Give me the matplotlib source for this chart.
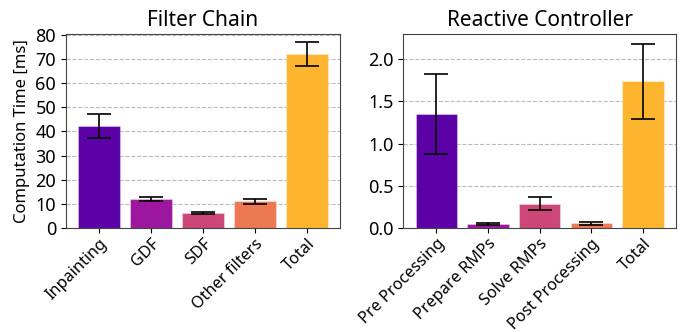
import numpy as np
import matplotlib
matplotlib.use("Agg")
import matplotlib.pyplot as plt

plt.rcParams["font.family"] = ["Noto Sans", "DejaVu Sans"]

# ----------------------------
# Data
# ----------------------------
filter_labels = ["Inpainting", "GDF", "SDF", "Other filters", "Total"]
filter_means = [42.3, 12.2, 6.2, 11.0, 72.0]
filter_errs = [4.9, 0.8, 0.5, 1.2, 5.0]

ctrl_labels = ["Pre Processing", "Prepare RMPs", "Solve RMPs", "Post Processing", "Total"]
ctrl_means = [1.35, 0.05, 0.29, 0.055, 1.74]
ctrl_errs = [0.47, 0.012, 0.075, 0.02, 0.445]

colors = ["#5c01a6", "#9c179e", "#cc4778", "#ed7953", "#fdb42f"]


def draw(ax, labels, means, errs, title, ylim):
    x = np.arange(len(labels))
    ax.bar(x, means, width=0.8, color=colors, edgecolor="#ffffff55",
           linewidth=0.8, zorder=2)
    ax.errorbar(x, means, yerr=errs, fmt="none", ecolor="black",
                elinewidth=1.2, capsize=8.5, capthick=1.2, zorder=3)
    ax.set_xticks(x)
    ax.set_xticklabels(labels, rotation=45, ha="right",
                       rotation_mode="anchor", fontsize=11.7)
    ax.tick_params(axis="x", pad=2)
    ax.set_title(title, fontsize=15)
    ax.set_ylim(*ylim)
    ax.grid(axis="y", linestyle="--", color="#bbbbbb", linewidth=0.8, zorder=0)
    ax.set_axisbelow(True)
    ax.tick_params(axis="y", labelsize=13)
    for s in ax.spines.values():
        s.set_color("#444444")


fig = plt.figure(figsize=(6.8, 3.32), dpi=100)
ax1 = fig.add_axes([0.097, 0.313, 0.403, 0.585])
ax2 = fig.add_axes([0.593, 0.313, 0.401, 0.585])

draw(ax1, filter_labels, filter_means, filter_errs, "Filter Chain", (0, 80.3))
ax1.set_ylabel("Computation Time [ms]", fontsize=12)
ax1.set_yticks(np.arange(0, 81, 10))

draw(ax2, ctrl_labels, ctrl_means, ctrl_errs, "Reactive Controller", (0, 2.3))
ax2.set_yticks(np.arange(0, 2.01, 0.5))

fig.savefig("out.png", dpi=100)
